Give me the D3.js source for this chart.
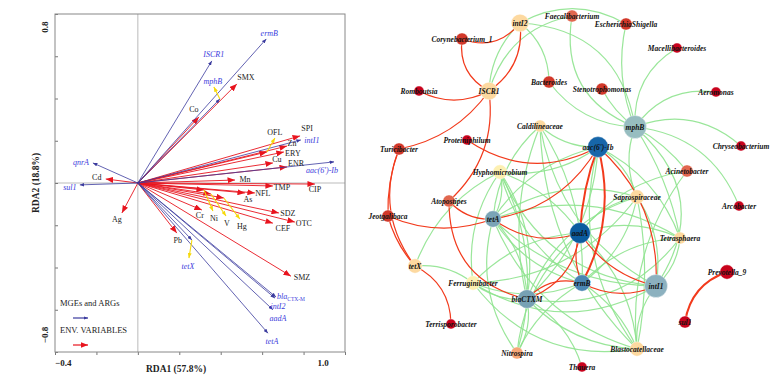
<!DOCTYPE html>
<html><head><meta charset="utf-8">
<script src="https://cdn.jsdelivr.net/npm/d3@7"></script>
<style>body{margin:0;background:#fff}svg{display:block}</style>
</head><body>
<svg id="c" width="778" height="381"></svg>
<script>
// ---------------- RDA data ----------------
const argNames = ["ermB","ISCR1","mphB","intI1","aac(6')-Ib","qnrA","sul1","tetX","blaCTX-M","intI2","aadA","tetA"];
const argRDA1  = [0.62, 0.357, 0.396, 0.787, 0.947, -0.217, -0.28, 0.261, 0.667, 0.662, 0.652, 0.628];
const argRDA2  = [0.682, 0.578, 0.398, 0.204, 0.100, 0.095, -0.009, -0.270, -0.540, -0.545, -0.600, -0.711];

const envNames = ["SMX","Co","SPI","OFL","Zn","ERY","Cu","ENR","Cd","Mn","TMP","CIP","NFL","As","SDZ","OTC","CEF","Cr","Ni","V","Hg","Ag","Pb","SMZ"];
const envRDA1  = [0.478,0.295,0.783,0.623,0.72,0.705,0.652,0.72,-0.155,0.469,0.652,0.855,0.565,0.517,0.681,0.758,0.652,0.309,0.319,0.353,0.415,-0.077,0.188,0.739];
const envRDA2  = [0.469,0.313,0.223,0.147,0.175,0.147,0.095,0.076,0.019,0.014,-0.014,-0.005,-0.047,-0.047,-0.142,-0.185,-0.19,-0.128,-0.033,-0.052,-0.071,-0.142,-0.237,-0.441];

const xTicks = [-0.4,-0.2,0,0.2,0.4,0.6,0.8,1.0];
const yTicks = [-0.8,-0.6,-0.4,-0.2,0,0.2,0.4,0.6,0.8];
const xTitle = "RDA1 (57.8%)", yTitle = "RDA2 (18.8%)";
const legendLabels = ["MGEs and ARGs","ENV. VARIABLES"];

// label placement (pixel offsets from arrow tip) -- layout only
const labelOff = {
 "ermB":[3,-6],"ISCR1":[2,-7],"mphB":[-7,-18],"intI1":[11,0],"aac(6')-Ib":[-12,8],"qnrA":[-12,-1],"sul1":[-10,2],
 "tetX":[-4,26],"blaCTX-M":[15,-1],"intI2":[3,8],"aadA":[5,8],"tetA":[4,8],
 "SMX":[9,-7],"Co":[-5,-8],"SPI":[7,-8],"OFL":[8,-20],"Zn":[5,-3],"ERY":[9,1],"Cu":[4,-4],"ENR":[9,-4],"Cd":[-9,-2],
 "Mn":[10,-1],"TMP":[9,1],"CIP":[0,5],"NFL":[8,0],"As":[3,6],"SDZ":[9,0],"OTC":[9,1],"CEF":[10,5],"Cr":[-2,5],
 "Ni":[10,28],"V":[16,29],"Hg":[18,28],"Ag":[-5,6],"Pb":[1,7],"SMZ":[11,1]
};
const leaderOff = {"mphB":[-6,-12],"OFL":[8,-14],"tetX":[-3,18],"Ni":[9,21],"V":[15,22],"Hg":[16,21]};

// ---------------- Network data ----------------
const netNodes = ["intI2","Faecalibacterium","EscherichiaShigella","Macellibacteroides","Corynebacterium_1","Bacteroides",
 "Stenotrophomonas","Aeromonas","Romboutsia","ISCR1","mphB","Caldilineaceae","Proteiniphilum","aac(6')-Ib","Chryseobacterium",
 "Turicibacter","Hyphomicrobium","Acinetobacter","Atopostipes","Saprospiraceae","Arcobacter","Jeotgalibaca","tetA","aadA",
 "Tetrasphaera","tetX","Prevotella_9","Ferruginibacter","ermB","intI1","blaCTXM","Terrisporobacter","sul1","Nitrospira",
 "Blastocatellaceae","Thauera"];
const netNodeClass = ["light","salmon","red","dark","red","red","red","dark","dark","light","mphB","light","dark","aac","dark",
 "red","pale","salmon","salmon","light","dark","red","tetA","aadA","light","light","dark","pale","ermB","intI1","bla","dark","dark","orange",
 "light","dark"];
const netNodeDegree = [8.5,6,6,5,6,6,6,5,5,8.5,11,6,5,10,5,6,7,6,6,7,5,6,8,10,6,7,7,7,8,11,9,5,6,6,7,5];

const netEdges = [
 // positive (red)
 ["intI2","Corynebacterium_1","r"],["Corynebacterium_1","ISCR1","r"],["intI2","ISCR1","r"],["ISCR1","Romboutsia","r"],
 ["ISCR1","Turicibacter","r"],["ISCR1","Atopostipes","r"],["Proteiniphilum","aac(6')-Ib","r"],["Turicibacter","Jeotgalibaca","r"],
 ["Turicibacter","tetX","r"],["Jeotgalibaca","tetX","r"],["Jeotgalibaca","tetA","r"],["Atopostipes","tetA","r"],
 ["Atopostipes","blaCTXM","r"],["tetA","aadA","r"],["tetX","Terrisporobacter","r"],["aac(6')-Ib","ermB","R"],
 ["aac(6')-Ib","aadA","R"],["aac(6')-Ib","intI1","r"],["aadA","ermB","r"],["aadA","intI1","r"],["aadA","blaCTXM","r"],
 ["ermB","blaCTXM","r"],["ermB","intI1","r"],["sul1","Prevotella_9","R"],["tetA","aac(6')-Ib","r"],
 // negative (green)
 ["intI2","EscherichiaShigella","g"],["intI2","Bacteroides","g"],["intI2","mphB","g"],["intI2","ISCR1","g"],
 ["ISCR1","Faecalibacterium","g"],["Faecalibacterium","mphB","g"],["EscherichiaShigella","mphB","g"],["Stenotrophomonas","mphB","g"],
 ["Bacteroides","mphB","g"],["Macellibacteroides","mphB","g"],["Aeromonas","mphB","g"],["Chryseobacterium","mphB","g"],
 ["mphB","Acinetobacter","g"],["mphB","Arcobacter","g"],["mphB","Tetrasphaera","g"],["mphB","intI1","g"],["mphB","Saprospiraceae","g"],
 ["Acinetobacter","aadA","g"],["Acinetobacter","Blastocatellaceae","g"],
 ["Caldilineaceae","aac(6')-Ib","g"],["Caldilineaceae","tetA","g"],["Caldilineaceae","blaCTXM","g"],["Caldilineaceae","ermB","g"],
 ["Caldilineaceae","intI1","g"],["Caldilineaceae","Blastocatellaceae","g"],
 ["Hyphomicrobium","aac(6')-Ib","g"],["Hyphomicrobium","tetA","g"],["Hyphomicrobium","blaCTXM","g"],["Hyphomicrobium","ermB","g"],
 ["Hyphomicrobium","aadA","g"],["Hyphomicrobium","Ferruginibacter","g"],["Hyphomicrobium","intI1","g"],["Hyphomicrobium","tetX","g"],
 ["Hyphomicrobium","Nitrospira","g"],["tetX","Ferruginibacter","g"],
 ["Ferruginibacter","aadA","g"],["Ferruginibacter","ermB","g"],["Ferruginibacter","intI1","g"],["Ferruginibacter","blaCTXM","g"],
 ["Ferruginibacter","Saprospiraceae","g"],["Ferruginibacter","Blastocatellaceae","g"],
 ["Saprospiraceae","tetA","g"],["Saprospiraceae","aadA","g"],["Saprospiraceae","blaCTXM","g"],["Saprospiraceae","ermB","g"],
 ["Saprospiraceae","intI1","g"],["Saprospiraceae","Blastocatellaceae","g"],
 ["Tetrasphaera","intI1","g"],["Tetrasphaera","aadA","g"],["Tetrasphaera","tetA","g"],["Tetrasphaera","blaCTXM","g"],["Tetrasphaera","ermB","g"],
 ["Blastocatellaceae","blaCTXM","g"],["Blastocatellaceae","aadA","g"],["Blastocatellaceae","ermB","g"],["Blastocatellaceae","intI1","g"],
 ["Blastocatellaceae","tetA","g"],["Blastocatellaceae","aac(6')-Ib","g"],
 ["Nitrospira","blaCTXM","g"],["Nitrospira","tetA","g"],["Nitrospira","aadA","g"],["Nitrospira","ermB","g"],["Thauera","blaCTXM","g"],
 ["aac(6')-Ib","tetA","g"],["aac(6')-Ib","blaCTXM","g"],["aac(6')-Ib","Saprospiraceae","g"],["aac(6')-Ib","Tetrasphaera","g"],
 ["tetA","blaCTXM","g"],["tetA","intI1","g"],["tetA","ermB","g"]
];

// ---------------- layout (positions / styles) ----------------
const netLayout = {
 "intI2":[520,23],"Faecalibacterium":[572,16],"EscherichiaShigella":[626,24],"Macellibacteroides":[677,48],
 "Corynebacterium_1":[462,39],"Bacteroides":[549,82],"Stenotrophomonas":[602,89],"Aeromonas":[716,92],"Romboutsia":[419,91],
 "ISCR1":[489,91],"mphB":[635,127],"Caldilineaceae":[540,126],"Proteiniphilum":[467,140],"aac(6')-Ib":[598,147],
 "Chryseobacterium":[741,146],"Turicibacter":[399,149],"Hyphomicrobium":[500,172],"Acinetobacter":[687,171],
 "Atopostipes":[449,201],"Saprospiraceae":[637,197],"Arcobacter":[739,206],"Jeotgalibaca":[388,216],"tetA":[493,219],
 "aadA":[580,233],"Tetrasphaera":[680,238],"tetX":[415,266],"Prevotella_9":[727,272],"Ferruginibacter":[473,283],
 "ermB":[582,283],"intI1":[656,286],"blaCTXM":[527,299],"Terrisporobacter":[451,324],"sul1":[685,322],"Nitrospira":[517,353],
 "Blastocatellaceae":[637,349],"Thauera":[582,367]
};
const edgeBend = [
 -0.18,0.17,-0.15,-0.13,-0.1,-0.13,0.15,0.05,0.14,0.06,0.1,0.12,0.2,0.13,-0.15,-0.1,0.04,-0.12,0.1,0.1,-0.15,0.15,0.12,-0.15,0.12,
 -0.14,-0.12,-0.2,0.1,-0.15,0.2,0.08,0.06,0.12,0.15,0.15,0.15,-0.05,-0.15,-0.05,-0.22,0.1,0.1,0.1,
 0.1,0.1,0.08,-0.08,0.12,0.1,
 0.1,-0.1,-0.1,0.1,-0.08,0.1,0.15,0.1,-0.1,-0.1,
 -0.1,0.1,0.15,0.1,0.12,0.15,
 0.12,0.1,0.12,-0.1,-0.1,-0.05,
 -0.1,0.1,0.12,-0.15,0.1,
 -0.1,0.1,0.08,-0.1,-0.12,-0.12,
 0.1,-0.12,-0.1,-0.08,0.1,
 0.1,-0.1,-0.1,-0.1,
 -0.1,0.1,0.1
];
const nodeFill = {light:"#fdd9a0",pale:"#fdf0b2",salmon:"#e1674f",orange:"#f7a778",red:"#d2382a",dark:"#c8021c",
  mphB:"#97bdc0",intI1:"#8cb1bf",tetA:"#7aa4b7",bla:"#77a1b4",ermB:"#4b87b3",aac:"#1766a9",aadA:"#0b5b9f"};

const svg = d3.select("#c");
const serif = "'Liberation Serif','Times New Roman',serif";

// ================= RDA panel =================
const x = d3.scaleLinear().domain([-0.4,1.0]).range([55,345]);
const y = d3.scaleLinear().domain([-0.8,0.8]).range([352,14]);
const rda = svg.append("g");

const defs = svg.append("defs");
function marker(id,color,len,hw){
  defs.append("marker").attr("id",id).attr("markerUnits","userSpaceOnUse")
   .attr("viewBox",`0 ${-hw} ${len} ${2*hw}`).attr("refX",len).attr("refY",0)
   .attr("markerWidth",len).attr("markerHeight",2*hw).attr("orient","auto")
   .append("path").attr("d",`M0,${-hw}L${len},0L0,${hw}Z`).attr("fill",color);
}
const RED="#e8141e", BLUE="#3b3b9e", YEL="#f6d90a", BLUETXT="#3c3cdc";
marker("mr",RED,7.5,3); marker("mb",BLUE,4.5,1.8); marker("my",YEL,5,2);

rda.append("line").attr("x1",x(0)).attr("x2",x(0)).attr("y1",y(0.8)).attr("y2",y(-0.8)).attr("stroke","#aaa").attr("stroke-width",0.8);
rda.append("line").attr("x1",x(-0.4)).attr("x2",x(1.0)).attr("y1",y(0)).attr("y2",y(0)).attr("stroke","#aaa").attr("stroke-width",0.8);

const xa = rda.append("g").attr("transform",`translate(0,${y(-0.8)})`)
  .call(d3.axisBottom(x).tickValues(xTicks).tickSize(3).tickFormat(""));
const ya = rda.append("g").attr("transform",`translate(${x(-0.4)},0)`)
  .call(d3.axisRight(y).tickValues(yTicks).tickSize(3).tickFormat(""));
[xa,ya].forEach(a=>{a.selectAll("line").attr("stroke","#777");a.select(".domain").remove();});
rda.append("rect").attr("x",x(-0.4)).attr("y",y(0.8)).attr("width",x(1.0)-x(-0.4)).attr("height",y(-0.8)-y(0.8))
  .attr("fill","none").attr("stroke","#888").attr("stroke-width",1);

const tickFont = {"font-family":serif,"font-weight":"bold","font-size":"9px","fill":"#222"};
function styl(sel,o){for(const k in o) sel.attr(k,o[k]); return sel;}
styl(rda.append("text").attr("x",x(-0.4)).attr("y",366).text(d3.format(".1f")(xTicks[0])),tickFont);
styl(rda.append("text").attr("x",x(1.0)-22).attr("y",366).attr("text-anchor","middle").text(d3.format(".1f")(xTicks[xTicks.length-1])),tickFont);
styl(rda.append("text").attr("transform",`translate(48,${y(0.8)+13}) rotate(-90)`).attr("text-anchor","middle").text(d3.format(".1f")(yTicks[yTicks.length-1])),tickFont);
styl(rda.append("text").attr("transform",`translate(48,${y(-0.8)-17}) rotate(-90)`).attr("text-anchor","middle").text(d3.format(".1f")(yTicks[0])),tickFont);
styl(rda.append("text").attr("x",176).attr("y",372).attr("text-anchor","middle").text(xTitle),tickFont).attr("font-size","9.5px");
styl(rda.append("text").attr("transform",`translate(39,${y(0)}) rotate(-90)`).attr("text-anchor","middle").text(yTitle),tickFont).attr("font-size","9.5px");

// env arrows
const envG = rda.append("g");
envNames.forEach((n,i)=>{
  envG.append("line").attr("x1",x(0)).attr("y1",y(0)).attr("x2",x(envRDA1[i])).attr("y2",y(envRDA2[i]))
    .attr("stroke",RED).attr("stroke-width",0.9).attr("marker-end","url(#mr)");
});
// arg arrows
const argG = rda.append("g");
argNames.forEach((n,i)=>{
  argG.append("line").attr("x1",x(0)).attr("y1",y(0)).attr("x2",x(argRDA1[i])).attr("y2",y(argRDA2[i]))
    .attr("stroke",BLUE).attr("stroke-width",0.8).attr("marker-end","url(#mb)");
});
// leaders
function tipOf(n){let i=argNames.indexOf(n); if(i>=0) return [x(argRDA1[i]),y(argRDA2[i])];
  i=envNames.indexOf(n); return [x(envRDA1[i]),y(envRDA2[i])];}
Object.keys(leaderOff).forEach(n=>{
  const t=tipOf(n), o=leaderOff[n];
  rda.append("line").attr("x1",t[0]).attr("y1",t[1]).attr("x2",t[0]+o[0]).attr("y2",t[1]+o[1])
   .attr("stroke",YEL).attr("stroke-width",1.1).attr("marker-end","url(#my)");
});
// labels
envNames.forEach(n=>{
  const t=tipOf(n), o=labelOff[n];
  rda.append("text").attr("x",t[0]+o[0]).attr("y",t[1]+o[1]).attr("dy","0.35em").attr("text-anchor","middle")
   .attr("font-family",serif).attr("font-size","8px").attr("fill","#222").text(n);
});
argNames.forEach(n=>{
  const t=tipOf(n), o=labelOff[n];
  const tx = rda.append("text").attr("x",t[0]+o[0]).attr("y",t[1]+o[1]).attr("dy","0.35em").attr("text-anchor","middle")
   .attr("font-family",serif).attr("font-size","8px").attr("font-style","italic").attr("fill",BLUETXT);
  if(n==="blaCTX-M"){ tx.append("tspan").text("bla"); tx.append("tspan").attr("font-size","5.5px").attr("dy","2").attr("font-style","normal").text("CTX-M"); }
  else tx.text(n);
});
// legend
styl(rda.append("text").attr("x",60).attr("y",306).text(legendLabels[0]),{"font-family":serif,"font-size":"8.5px","fill":"#222"});
styl(rda.append("text").attr("x",60).attr("y",333).text(legendLabels[1]),{"font-family":serif,"font-size":"8.5px","fill":"#222"});
rda.append("line").attr("x1",73).attr("x2",88).attr("y1",318).attr("y2",318).attr("stroke",BLUE).attr("stroke-width",1.2).attr("marker-end","url(#mb)");
rda.append("line").attr("x1",73).attr("x2",88).attr("y1",345).attr("y2",345).attr("stroke",RED).attr("stroke-width",1.2).attr("marker-end","url(#mr)");

// ================= Network panel =================
const net = svg.append("g");
const nodes = netNodes.map((n,i)=>({id:n,cls:netNodeClass[i],deg:netNodeDegree[i],x:netLayout[n][0],y:netLayout[n][1]}));
const byId = new Map(nodes.map(d=>[d.id,d]));
const rScale = d3.scaleLinear().domain([5,11]).range([5,11.5]);
const links = netEdges.map((e,i)=>({s:byId.get(e[0]),t:byId.get(e[1]),type:e[2],bend:edgeBend[i]||0}));
function edgePath(l){
  const x1=l.s.x,y1=l.s.y,x2=l.t.x,y2=l.t.y,dx=x2-x1,dy=y2-y1,len=Math.hypot(dx,dy);
  const nx=-dy/len, ny=dx/len, k=2*l.bend*len;
  const p=d3.path(); p.moveTo(x1,y1); p.quadraticCurveTo((x1+x2)/2+nx*k,(y1+y2)/2+ny*k,x2,y2); return p.toString();
}
net.append("g").selectAll("path").data(links.filter(l=>l.type==="g")).join("path")
  .attr("d",edgePath).attr("fill","none").attr("stroke","#8fe38f").attr("stroke-width",1.2).attr("stroke-opacity",0.9);
net.append("g").selectAll("path").data(links.filter(l=>l.type!=="g")).join("path")
  .attr("d",edgePath).attr("fill","none").attr("stroke","#f23a1c").attr("stroke-width",l=>l.type==="R"?2:1.2);
net.append("g").selectAll("circle").data(nodes).join("circle")
  .attr("cx",d=>d.x).attr("cy",d=>d.y).attr("r",d=>rScale(d.deg)).attr("fill",d=>nodeFill[d.cls])
  .attr("stroke","#fff").attr("stroke-width",0.4);
net.append("g").selectAll("text").data(nodes).join("text")
  .attr("x",d=>d.x).attr("y",d=>d.y).attr("dy","0.35em").attr("text-anchor","middle")
  .attr("font-family",serif).attr("font-weight","bold").attr("font-style","italic").attr("font-size","7.5px").attr("fill","#111")
  .text(d=>d.id);
</script>
</body></html>
